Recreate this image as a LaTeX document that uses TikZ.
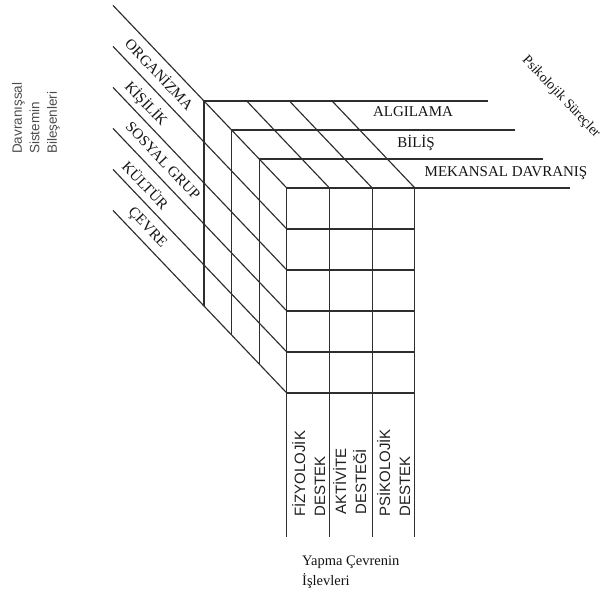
\documentclass[tikz,border=0pt]{standalone}
\usepackage{fontspec}
\setmainfont{Liberation Serif}
\newfontfamily\labelsans{Liberation Sans}
\begin{document}
\begin{tikzpicture}[x=1pt,y=-1pt,
  grid/.style={line width=1.15pt, draw=black!82},
  serif/.style={font=\fontsize{15}{18}\selectfont, text=black!92, inner sep=0pt},
  sidelabel/.style={serif, rotate=-46.5},
  funclabel/.style={font=\labelsans\fontsize{15}{20}\selectfont, text=black!88,
    inner sep=0pt, rotate=90, anchor=north west, align=left},
  axislabel/.style={font=\labelsans\fontsize{13.5}{17.5}\selectfont, text=black!70,
    inner sep=0pt, rotate=90, anchor=north west, align=left}]
\useasboundingbox (0,0) rectangle (603,599);

% cube: back corner, depth step, cell size
\def\bx{204}\def\by{101}
\def\dx{27.6}\def\dy{29}
\def\cw{42.7}\def\rh{41}
\def\fx{286.8}\def\fy{188}

% each depth layer: left-face vertical and top line running right
\foreach \L in {0,...,3}
  \draw[grid] ({\bx+\dx*\L},{\by+\dy*\L+5*\rh}) -- ({\bx+\dx*\L},{\by+\dy*\L})
              -- ({\bx+\dx*\L+283.5},{\by+\dy*\L});

% top face diagonals
\foreach \j in {1,2,3}
  \draw[grid] ({\bx+\cw*\j},\by) -- ({\fx+\cw*\j},\fy);

% left face row lines, extended back to the upper left
\foreach \k in {0,...,5}
  \draw[grid] ({\bx-91},{\by+\rh*\k-95.6}) -- ({\fx},{\fy+\rh*\k});

% front face rows
\foreach \k in {1,...,5}
  \draw[grid] (\fx,{\fy+\rh*\k}) -- ({\fx+3*\cw},{\fy+\rh*\k});

% front face columns, extended downwards
\foreach \j in {0,...,3}
  \draw[grid] ({\fx+\cw*\j},\fy) -- ({\fx+\cw*\j},537);

% components of the behavioural system
\node[sidelabel] (organizma) at (160,74) {ORGANİZMA};
\node[sidelabel] (kisilik)   at (146,104) {KİŞİLİK};
\node[sidelabel] (sosyal)    at (163,161) {SOSYAL GRUP};
\node[sidelabel] (kultur)    at (146,185) {KÜLTÜR};
\node[sidelabel] (cevre)     at (147,228) {ÇEVRE};

% psychological processes
\node[serif] (algilama) at (413,112) {ALGILAMA};
\node[serif] (bilis)    at (416,143) {BİLİŞ};
\node[serif] (mekansal) at (506,173) {MEKANSAL DAVRANIŞ};
\node[serif, font=\fontsize{14}{17}\selectfont, rotate=-46.5] (surecler) at (561,97) {Psikolojik Süreçler};

% functions of the built environment
\node[funclabel] (fizyolojik) at (292,517) {FİZYOLOJİK\\DESTEK};
\node[funclabel] (aktivite)   at (333,515) {AKTİVİTE\\DESTEĞİ};
\node[funclabel] (psikolojik) at (377,517) {PSİKOLOJİK\\DESTEK};

% axis titles
\node[axislabel] (davranis) at (12,154) {Davranışsal\\Sistemin\\Bileşenleri};
\node[serif, anchor=north west, align=left, font=\fontsize{14.5}{20}\selectfont]
  (yapma) at (302,556) {Yapma Çevrenin\\İşlevleri};
\end{tikzpicture}
\end{document}
